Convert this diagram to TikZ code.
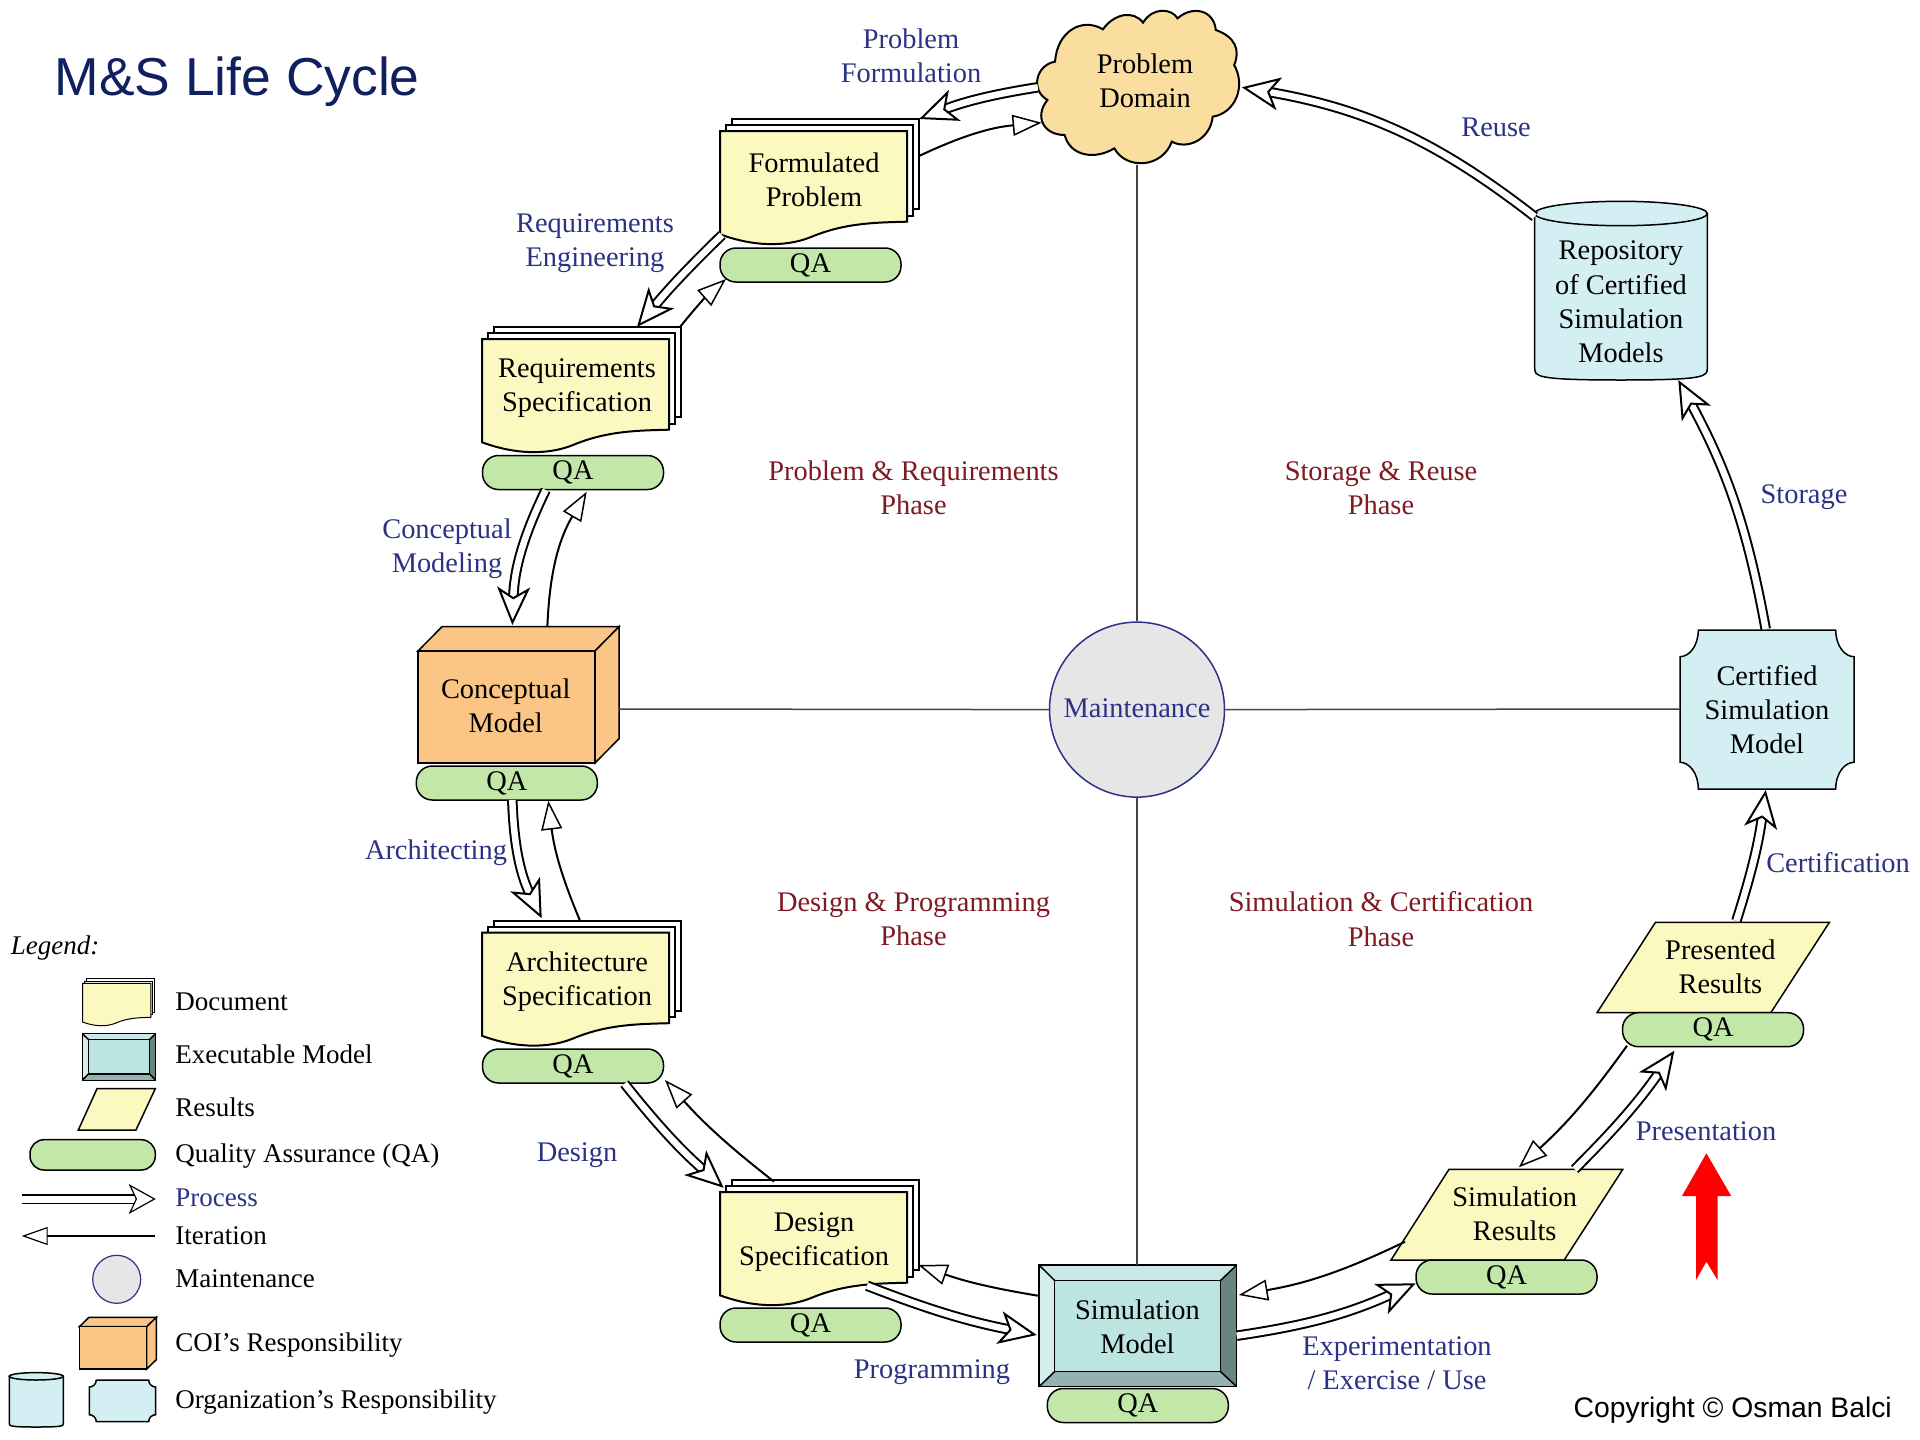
\documentclass[tikz,border=0pt]{standalone}
\usepackage{fontspec}
\setmainfont{Liberation Serif}
\newfontfamily\hvfont{Liberation Sans}
\usetikzlibrary{arrows.meta}
\definecolor{labelblue}{HTML}{2B3285}
\definecolor{phasered}{HTML}{7F1A22}
\definecolor{docyellow}{HTML}{FBF9C0}
\definecolor{qagreen}{HTML}{C3E7A9}
\definecolor{coiorange}{HTML}{FBC586}
\definecolor{cloudtan}{HTML}{FADEA0}
\definecolor{orgblue}{HTML}{D4EFF3}
\definecolor{titlenavy}{HTML}{0F1F5F}
\definecolor{gridline}{HTML}{444444}
\definecolor{smcentre}{HTML}{BCE4E0}
\definecolor{smtop}{HTML}{CBE8E8}
\definecolor{smleft}{HTML}{D5EFEE}
\definecolor{smright}{HTML}{6A8383}
\definecolor{smbottom}{HTML}{95B2B2}
\definecolor{maintfill}{HTML}{E6E6E6}
\newcommand{\stdfont}{\fontsize{28.4}{34.3}\selectfont}
\newcommand{\legfont}{\fontsize{27}{33}\selectfont}
% document stack, origin at the top left of the front sheet
\newcommand{\docshape}[1]{%
  \draw[#1,fill=white] (11.5,-12) rectangle (198.5,78);
  \draw[#1,fill=white] (5.7,-6) rectangle (192.7,84.5);
  \draw[#1,fill=docyellow] (0,0) -- (187,0) -- (187,90.7)
     .. controls (155,91.5) and (125,92) .. (91.8,105.7)
     .. controls (72,114) and (40,118) .. (0,103.3) -- cycle;}
% parallelogram: #1 top-left x, #2 top y, #3 top-right x, #4 bottom-left x, #5 bottom y, #6 bottom-right x
\newcommand{\paragram}[6]{%
  \draw[shapeline,fill=docyellow] (#1,#2) -- (#3,#2) -- (#6,#5) -- (#4,#5) -- cycle;}
% bevelled box: outer l t r b, inner l t r b
\newcommand{\bevelbox}[8]{%
  \fill[smtop] (#1,#2) -- (#3,#2) -- (#7,#6) -- (#5,#6) -- cycle;
  \fill[smleft] (#1,#2) -- (#5,#6) -- (#5,#8) -- (#1,#4) -- cycle;
  \fill[smright] (#3,#2) -- (#7,#6) -- (#7,#8) -- (#3,#4) -- cycle;
  \fill[smbottom] (#1,#4) -- (#5,#8) -- (#7,#8) -- (#3,#4) -- cycle;
  \draw[shapeline,fill=smcentre] (#5,#6) rectangle (#7,#8);
  \draw[shapeline] (#1,#2) rectangle (#3,#4);
  \draw[shapeline] (#1,#2) -- (#5,#6) (#3,#2) -- (#7,#6) (#1,#4) -- (#5,#8) (#3,#4) -- (#7,#8);}
% 3-D box: front l t r b, dx, dy
\newcommand{\boxshape}[6]{%
  \draw[shapeline,fill=coiorange] (#1,#2) -- ++(#5,-#6) -- ++(#3-#1,0) -- ++(-#5,#6) -- cycle;
  \draw[shapeline,fill=coiorange] (#3,#2) -- ++(#5,-#6) -- ++(0,#4-#2) -- ++(-#5,#6) -- cycle;
  \draw[shapeline,fill=coiorange] (#1,#2) rectangle (#3,#4);}
% plaque: l t r b, notch x, notch y
\newcommand{\plaque}[6]{%
  \draw[shapeline,fill=orgblue] (#1+#5,#2) -- (#3-#5,#2)
    .. controls (#3-#5,#2+0.6*#6) and (#3-0.5*#5,#2+#6) .. (#3,#2+#6)
    -- (#3,#4-#6) .. controls (#3-0.5*#5,#4-#6) and (#3-#5,#4-0.6*#6) .. (#3-#5,#4)
    -- (#1+#5,#4) .. controls (#1+#5,#4-0.6*#6) and (#1+0.5*#5,#4-#6) .. (#1,#4-#6)
    -- (#1,#2+#6) .. controls (#1+0.5*#5,#2+#6) and (#1+#5,#2+0.6*#6) .. (#1+#5,#2) -- cycle;}
% cylinder: left right cx ; top-side y, ry top, lower-side y, ry bottom
\newcommand{\drum}[6]{%
  \draw[shapeline,fill=orgblue] (#1,#4) -- (#1,#6)
    .. controls (#1,#6+0.7*#5) and (#3-0.5*#2+0.5*#1,#6+#5) .. (#3,#6+#5)
    .. controls (#3+0.5*#2-0.5*#1,#6+#5) and (#2,#6+0.7*#5) .. (#2,#6) -- (#2,#4) -- cycle;
  \draw[shapeline,fill=orgblue] (#3,#4) ellipse [x radius=#2/2-#1/2,y radius=#5];}
\tikzset{
  txt/.style={inner sep=0pt,align=center,font=\stdfont,text=black},
  qabox/.style={draw=black,line width=1.5pt,fill=qagreen,rounded corners=16pt,inner sep=0pt,
    minimum width=181pt,minimum height=34pt,font=\stdfont,text=black},
  proc/.style={txt,text=labelblue},
  phase/.style={txt,text=phasered},
  leg/.style={anchor=base west,inner sep=0pt,font=\legfont,text=black},
  shapeline/.style={draw=black,line width=1.5pt},
  sheet/.style={draw=black,line width=2pt},
  process/.style={draw=black,line width=2pt,double=white,double distance=6.5pt,
    -{Stealth[length=38pt,width=33pt,inset=10pt,open,fill=white,line width=2pt]}},
  iteration/.style={draw=black,line width=2pt,
    -{Triangle[length=29pt,width=21pt,open,fill=white,line width=1.5pt]}},
  gridrule/.style={draw=gridline,line width=1.5pt},
}
\begin{document}
\begin{tikzpicture}[x=1pt,y=-1pt]
\useasboundingbox (0,0) rectangle (1920,1440);
\fill[white] (0,0) rectangle (1920,1440);

% cloud
\begin{scope}[shift={(680,0)},x=0.3827pt,y=-0.3333pt]
\draw[sheet,fill=cloudtan] (980,185)
  .. controls (985,95) and (1050,50) .. (1105,88)
  .. controls (1135,40) and (1185,30) .. (1210,68)
  .. controls (1235,20) and (1285,25) .. (1300,55)
  .. controls (1340,15) and (1395,30) .. (1400,90)
  .. controls (1450,110) and (1465,150) .. (1448,195)
  .. controls (1480,260) and (1450,340) .. (1392,350)
  .. controls (1385,420) and (1325,450) .. (1285,425)
  .. controls (1260,505) and (1165,510) .. (1135,445)
  .. controls (1085,480) and (1020,470) .. (1005,405)
  .. controls (950,405) and (925,350) .. (960,300)
  .. controls (915,270) and (930,195) .. (980,185) -- cycle;
\end{scope}
\node[txt] (cloud) at (1145,81) {Problem\\Domain};

% documents
\begin{scope}[shift={(720,131)}]\docshape{sheet}\end{scope}
\node[txt] (fp) at (814,180) {Formulated\\Problem};
\node[qabox] (qa-fp) at (810.5,265) {QA};
\begin{scope}[shift={(482,339)}]\docshape{sheet}\end{scope}
\node[txt] (rs) at (577,388) {Requirements\\Specification};
\node[qabox] (qa-rs) at (573,472.5) {QA};
\begin{scope}[shift={(482,932.5)}]\docshape{sheet}\end{scope}
\node[txt] (as) at (577,982) {Architecture\\Specification};
\node[qabox] (qa-as) at (573,1066) {QA};
\begin{scope}[shift={(720,1192)}]\docshape{sheet}\end{scope}
\node[txt] (ds) at (814,1242) {Design\\Specification};
\node[qabox] (qa-ds) at (810.5,1325) {QA};

% conceptual model
\boxshape{418}{651}{595}{763}{24}{24.3}
\node[txt] (cm) at (505.7,706) {Conceptual\\Model};
\node[qabox] (qa-cm) at (506.8,783) {QA};

% simulation model
\bevelbox{1039}{1265}{1236.7}{1386.7}{1054.5}{1280.3}{1220.7}{1371.7}
\node[txt] (sm) at (1137.5,1327) {Simulation\\Model};
\node[qabox] (qa-sm) at (1137.8,1405.5) {QA};

% results
\paragram{1449}{1169.3}{1622.8}{1391}{1260}{1564.2}
\node[txt] (sr) at (1514.7,1214) {Simulation\\Results};
\node[qabox] (qa-sr) at (1506.5,1277) {QA};
\paragram{1655.5}{922.3}{1829.4}{1597}{1012.7}{1770.8}
\node[txt] (pr) at (1720.4,967) {Presented\\Results};
\node[qabox] (qa-pr) at (1713,1029.7) {QA};

% certified model and repository
\plaque{1680}{630}{1854}{789}{18.3}{26.7}
\node[txt] (cert) at (1767,709.5) {Certified\\Simulation\\Model};
\drum{1534.7}{1707.3}{1621}{213.5}{12.2}{367.8}
\node[txt] (repo) at (1621,302) {Repository\\of Certified\\Simulation\\Models};

% maintenance hub
\node[circle,draw=labelblue,line width=1.5pt,fill=maintfill,minimum size=175pt,inner sep=0pt,
   font=\stdfont,text=labelblue] (hub) at (1137,709.6) {\raisebox{3.5pt}{Maintenance}};

% spokes
\coordinate (cloudfoot) at (1137,165);
\coordinate (smhead) at (1137,1265);
\coordinate (cmside) at (619,709);
\coordinate (certside) at (1680,709);
\draw[gridrule] (cloudfoot) -- (hub.north);
\draw[gridrule] (hub.south) -- (smhead);
\draw[gridrule] (cmside) -- (hub.west);
\draw[gridrule] (hub.east) -- (certside);

% process arrows
\draw[process] ([shift={(-107.2,6.3)}]cloud.center) to[bend right=6] ([shift={(105.2,-61)}]fp.center);
\draw[process] ([shift={(-92,55)}]fp.center) to[bend right=3] ([shift={(60,-61)}]rs.center);
\draw[process] ([shift={(-27.3,17.5)}]qa-rs.center) to[bend right=12] ([shift={(6.7,-81)}]cm.center);
\draw[process] ([shift={(5.5,17)}]qa-cm.center) to[bend right=12] ([shift={(-35.3,-63.7)}]as.center);
\draw[process] ([shift={(51.5,17.7)}]qa-as.center) to[bend right=5] ([shift={(-90.3,-54.2)}]ds.center);
\draw[process] ([shift={(53,43.7)}]ds.center) to[bend right=5] ([shift={(-100.7,8)}]sm.center);
\draw[process] ([shift={(99.2,8.7)}]sm.center) to[bend right=8] ([shift={(-90.9,6.3)}]qa-sr.center);
\draw[process] ([shift={(59.9,-44.7)}]sr.center) to[bend right=5] ([shift={(-38.6,21)}]qa-pr.center);
\draw[process] ([shift={(16,-46.3)}]pr.center) to[bend right=5] ([shift={(-1.3,80.5)}]cert.center);
\draw[process] ([shift={(-1.3,-80.5)}]cert.center) to[bend right=9] ([shift={(57.3,78)}]repo.center);
\draw[process] ([shift={(-86.3,-85.3)}]repo.center) to[bend right=14] ([shift={(96.8,6.3)}]cloud.center);

% iteration arrows
\draw[iteration] ([shift={(105,-24)}]fp.center) to[bend left=10] ([shift={(-103.4,41.7)}]cloud.center);
\draw[iteration] ([shift={(103,-61)}]rs.center) to[bend left=5] ([shift={(-84.5,14)}]qa-fp.center);
\draw[iteration] ([shift={(41.7,-80)}]cm.center) to[bend left=14] ([shift={(13.7,19.2)}]qa-rs.center);
\draw[iteration] ([shift={(3,-61.3)}]as.center) to[bend left=8] ([shift={(41.5,17.7)}]qa-cm.center);
\draw[iteration] ([shift={(-40,-60.4)}]ds.center) to[bend left=5] ([shift={(92,14)}]qa-as.center);
\draw[iteration] ([shift={(-99.5,-31.3)}]sm.center) to[bend left=5] ([shift={(104.4,23)}]ds.center);
\draw[iteration] ([shift={(-109.7,27.7)}]sr.center) to[bend left=8] ([shift={(101.3,-32)}]sm.center);
\draw[iteration] ([shift={(-86,16)}]qa-pr.center) to[bend left=6] ([shift={(4.1,-46.7)}]sr.center);

% process labels
\node[proc] (l-pf) at (911,56) {Problem\\Formulation};
\node[proc] (l-re) at (595,243) {Requirements\\Engineering};
\node[proc] (l-cm) at (447,549) {Conceptual\\Modeling};
\node[proc] (l-ar) at (436,853) {Architecting};
\node[proc] (l-de) at (577,1155.5) {Design};
\node[proc] (l-pg) at (932,1372.5) {Programming};
\node[proc] (l-ex) at (1397,1363.5) {Experimentation\\/ Exercise / Use};
\node[proc] (l-pr) at (1706,1131) {Presentation};
\node[proc] (l-ce) at (1838,863) {Certification};
\node[proc] (l-st) at (1804,497.5) {Storage};
\node[proc] (l-ru) at (1496,127) {Reuse};

% phase labels
\node[phase] (p-pr) at (913.5,488) {Problem \& Requirements\\Phase};
\node[phase] (p-sr) at (1381,488) {Storage \& Reuse\\Phase};
\node[phase] (p-dp) at (913.5,919) {Design \& Programming\\Phase};
\node[phase] (p-sc) at (1381,919) {Simulation \& Certification\\Phase};

% title, copyright
\node[anchor=base west,inner sep=0pt,text=titlenavy,font=\hvfont\fontsize{53.4}{60}\selectfont] (title) at (54.5,95) {M\&S Life Cycle};
\node[anchor=base east,inner sep=0pt,text=black,font=\hvfont\fontsize{28.3}{34}\selectfont] (copy) at (1892,1417) {Copyright © Osman Balci};

% red arrow
\fill[red] (1706.4,1153.3) -- (1731.2,1196) -- (1717.5,1196) -- (1717.5,1280) -- (1706.4,1261.7) -- (1696,1280) -- (1696,1196) -- (1682,1196) -- cycle;

% ---------- legend
\node[leg,font=\itshape\legfont] (leg-head) at (10.7,954) {Legend:};
\begin{scope}[shift={(82.7,983.3)},x=0.364pt,y=-0.375pt]
\draw[shapeline,line width=1pt,fill=white] (11.5,-12) rectangle (198.5,78);
\draw[shapeline,line width=1pt,fill=white] (5.7,-6) rectangle (192.7,84.5);
\draw[shapeline,line width=1pt,fill=docyellow] (0,0) -- (187,0) -- (187,90.7)
     .. controls (155,91.5) and (125,92) .. (91.8,105.7)
     .. controls (72,114) and (40,118) .. (0,103.3) -- cycle;
\end{scope}
\node[leg] (leg-doc) at (175.2,1010) {Document};
\bevelbox{82.3}{1033.7}{155.7}{1080.3}{88.3}{1039.3}{149.7}{1074}
\node[leg] (leg-exe) at (175.2,1063.3) {Executable Model};
\paragram{97}{1088.7}{155.3}{78.3}{1130}{136}
\node[leg] (leg-res) at (175.2,1116.7) {Results};
\node[draw=black,line width=1.5pt,fill=qagreen,rounded corners=14pt,minimum width=125.3pt,minimum height=30.3pt,inner sep=0pt] (leg-qabox) at (92.65,1154.85) {};
\node[leg] (leg-qa) at (175.2,1162.5) {Quality Assurance (QA)};
\coordinate (leg-proc-a) at (21.7,1199);
\coordinate (leg-proc-b) at (155.7,1199);
\draw[draw=black,line width=1.2pt,double=white,double distance=7pt,
   -{Stealth[length=27pt,width=30pt,inset=7pt,open,fill=white,line width=1.2pt]}] (leg-proc-a) -- (leg-proc-b);
\node[leg,text=labelblue] (leg-proc) at (175.2,1206.5) {Process};
\coordinate (leg-iter-a) at (155.3,1236);
\coordinate (leg-iter-b) at (21.7,1236);
\draw[draw=black,line width=1.2pt,-{Triangle[length=26pt,width=18pt,open,fill=white,line width=1.2pt]}] (leg-iter-a) -- (leg-iter-b);
\node[leg] (leg-iter) at (175.2,1244) {Iteration};
\node[circle,draw=labelblue,line width=1.2pt,fill=maintfill,minimum size=48pt,inner sep=0pt] (leg-circ) at (116.7,1279.3) {};
\node[leg] (leg-mt) at (175.2,1287.5) {Maintenance};
\boxshape{79.3}{1326.7}{146.7}{1369}{9.7}{9.4}
\node[leg] (leg-coi) at (175.2,1351.5) {COI’s Responsibility};
\drum{9.3}{63.3}{36.3}{1376.3}{3.7}{1423.3}
\plaque{89.3}{1380}{155.7}{1421.7}{7}{7}
\node[leg] (leg-org) at (175.2,1408.5) {Organization’s Responsibility};
\end{tikzpicture}
\end{document}
